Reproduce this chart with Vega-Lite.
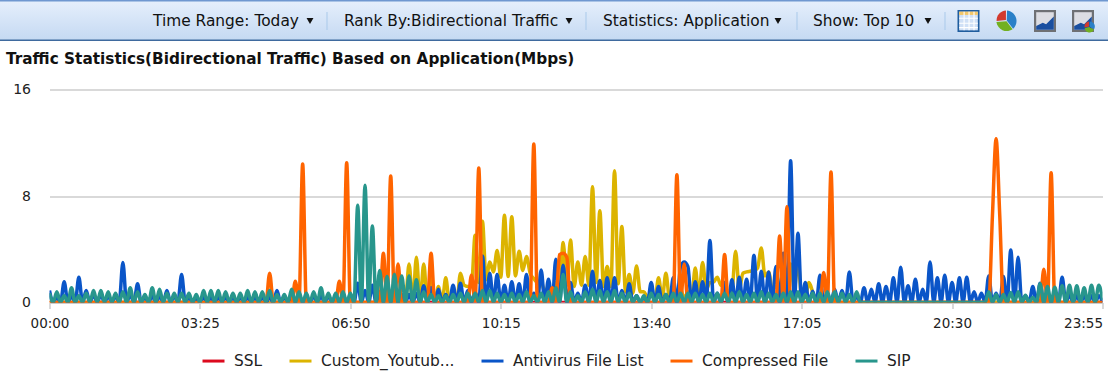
{"$schema":"https://vega.github.io/schema/vega-lite/v6.json","width":1053,"height":213,"autosize":"none","padding":{"left":49.5,"top":89.5,"right":5.5,"bottom":75.5},"background":"white","config":{"view":{"stroke":null}},
"title":{"text":"Traffic Statistics(Bidirectional Traffic) Based on Application(Mbps)","anchor":"start","frame":"group","dx":-43.5,"offset":0,"dy":82,"baseline":"bottom","font":"DejaVu Sans","fontSize":15.3,"fontWeight":"bold","color":"#111111"},
"datasets":{"traffic":[
{"t":"00:00","ssl":0,"yt":0,"av":0.9,"cf":0,"sip":0.7},{"t":"00:05","ssl":0,"yt":0,"av":0,"cf":0,"sip":0},{"t":"00:10","ssl":0,"yt":0,"av":0.4,"cf":0,"sip":0.8},{"t":"00:15","ssl":0,"yt":0,"av":0,"cf":0,"sip":0},{"t":"00:20","ssl":0,"yt":0,"av":1.55,"cf":0,"sip":0.5},{"t":"00:25","ssl":0,"yt":0,"av":0,"cf":0,"sip":0},{"t":"00:30","ssl":0,"yt":0,"av":0.5,"cf":0,"sip":1.1},{"t":"00:35","ssl":0,"yt":0,"av":0,"cf":0,"sip":0},{"t":"00:40","ssl":0,"yt":0,"av":1.9,"cf":0,"sip":0.5},{"t":"00:45","ssl":0,"yt":0,"av":0,"cf":0,"sip":0},{"t":"00:50","ssl":0,"yt":0,"av":0.9,"cf":0,"sip":0.7},{"t":"00:55","ssl":0,"yt":0,"av":0,"cf":0,"sip":0},
{"t":"01:00","ssl":0,"yt":0,"av":0.6,"cf":0,"sip":0.9},{"t":"01:05","ssl":0,"yt":0,"av":0,"cf":0,"sip":0},{"t":"01:10","ssl":0,"yt":0,"av":0.6,"cf":0,"sip":0.9},{"t":"01:15","ssl":0,"yt":0,"av":0,"cf":0,"sip":0},{"t":"01:20","ssl":0,"yt":0,"av":0.5,"cf":0,"sip":0.8},{"t":"01:25","ssl":0,"yt":0,"av":0,"cf":0,"sip":0},{"t":"01:30","ssl":0,"yt":0,"av":0.5,"cf":0,"sip":0.7},{"t":"01:35","ssl":0,"yt":0,"av":0,"cf":0,"sip":0},{"t":"01:40","ssl":0,"yt":0,"av":3,"cf":0,"sip":0.8},{"t":"01:45","ssl":0,"yt":0,"av":0,"cf":0,"sip":0},{"t":"01:50","ssl":0,"yt":0,"av":0.6,"cf":0,"sip":1.1},{"t":"01:55","ssl":0,"yt":0,"av":0,"cf":0,"sip":0},
{"t":"02:00","ssl":0,"yt":0,"av":1.4,"cf":0,"sip":0.8},{"t":"02:05","ssl":0,"yt":0,"av":0,"cf":0,"sip":0},{"t":"02:10","ssl":0,"yt":0,"av":0.4,"cf":0,"sip":0.6},{"t":"02:15","ssl":0,"yt":0,"av":0,"cf":0,"sip":0},{"t":"02:20","ssl":0,"yt":0,"av":0.5,"cf":0,"sip":1.1},{"t":"02:25","ssl":0,"yt":0,"av":0,"cf":0,"sip":0},{"t":"02:30","ssl":0,"yt":0,"av":0.5,"cf":0,"sip":1},{"t":"02:35","ssl":0,"yt":0,"av":0,"cf":0,"sip":0},{"t":"02:40","ssl":0,"yt":0,"av":0.9,"cf":0,"sip":0.7},{"t":"02:45","ssl":0,"yt":0,"av":0,"cf":0,"sip":0},{"t":"02:50","ssl":0,"yt":0,"av":0.5,"cf":0,"sip":0.7},{"t":"02:55","ssl":0,"yt":0,"av":0,"cf":0,"sip":0},
{"t":"03:00","ssl":0,"yt":0,"av":2.1,"cf":0,"sip":0.7},{"t":"03:05","ssl":0,"yt":0,"av":0,"cf":0,"sip":0},{"t":"03:10","ssl":0,"yt":0,"av":0.4,"cf":0,"sip":0.7},{"t":"03:15","ssl":0,"yt":0,"av":0,"cf":0,"sip":0},{"t":"03:20","ssl":0,"yt":0,"av":0.3,"cf":0,"sip":0.6},{"t":"03:25","ssl":0,"yt":0,"av":0,"cf":0,"sip":0},{"t":"03:30","ssl":0,"yt":0,"av":0.4,"cf":0,"sip":0.9},{"t":"03:35","ssl":0,"yt":0,"av":0,"cf":0,"sip":0},{"t":"03:40","ssl":0,"yt":0,"av":0.4,"cf":0,"sip":0.9},{"t":"03:45","ssl":0,"yt":0,"av":0,"cf":0,"sip":0},{"t":"03:50","ssl":0,"yt":0,"av":0.4,"cf":0,"sip":0.9},{"t":"03:55","ssl":0,"yt":0,"av":0,"cf":0,"sip":0},
{"t":"04:00","ssl":0,"yt":0,"av":0.4,"cf":0,"sip":0.8},{"t":"04:05","ssl":0,"yt":0,"av":0,"cf":0,"sip":0},{"t":"04:10","ssl":0,"yt":0,"av":0.4,"cf":0,"sip":0.7},{"t":"04:15","ssl":0,"yt":0,"av":0,"cf":0,"sip":0},{"t":"04:20","ssl":0,"yt":0,"av":0.4,"cf":0,"sip":0.7},{"t":"04:25","ssl":0,"yt":0,"av":0,"cf":0,"sip":0},{"t":"04:30","ssl":0,"yt":0,"av":0.4,"cf":0,"sip":0.9},{"t":"04:35","ssl":0,"yt":0,"av":0,"cf":0,"sip":0},{"t":"04:40","ssl":0,"yt":0,"av":0.4,"cf":0,"sip":0.8},{"t":"04:45","ssl":0,"yt":0,"av":0,"cf":0,"sip":0},{"t":"04:50","ssl":0,"yt":0,"av":0.4,"cf":0,"sip":0.8},{"t":"04:55","ssl":0,"yt":0,"av":0,"cf":0,"sip":0},
{"t":"05:00","ssl":0,"yt":0,"av":0.4,"cf":2.2,"sip":0.9},{"t":"05:05","ssl":0,"yt":0,"av":0,"cf":0,"sip":0},{"t":"05:10","ssl":0,"yt":0,"av":0.9,"cf":0,"sip":0.6},{"t":"05:15","ssl":0,"yt":0,"av":0,"cf":0,"sip":0},{"t":"05:20","ssl":0,"yt":0,"av":0.4,"cf":0,"sip":0.6},{"t":"05:25","ssl":0,"yt":0,"av":0,"cf":0,"sip":0},{"t":"05:30","ssl":0,"yt":0,"av":0.5,"cf":0,"sip":1},{"t":"05:35","ssl":0,"yt":0,"av":0,"cf":1.6,"sip":0},{"t":"05:40","ssl":0,"yt":0,"av":0.5,"cf":0,"sip":0.8},{"t":"05:45","ssl":0,"yt":0,"av":0,"cf":10.4,"sip":0},{"t":"05:50","ssl":0,"yt":0,"av":0.4,"cf":0,"sip":0.7},{"t":"05:55","ssl":0,"yt":0,"av":0,"cf":0,"sip":0},
{"t":"06:00","ssl":0,"yt":0,"av":0.5,"cf":0,"sip":0.8},{"t":"06:05","ssl":0,"yt":0,"av":0,"cf":0,"sip":0},{"t":"06:10","ssl":0,"yt":0,"av":0.5,"cf":0,"sip":1.1},{"t":"06:15","ssl":0,"yt":0,"av":0,"cf":0,"sip":0},{"t":"06:20","ssl":0,"yt":0,"av":0.5,"cf":0,"sip":0.7},{"t":"06:25","ssl":0,"yt":0,"av":0,"cf":0,"sip":0},{"t":"06:30","ssl":0,"yt":0,"av":0.5,"cf":0,"sip":0.7},{"t":"06:35","ssl":0,"yt":0,"av":0,"cf":1.6,"sip":0},{"t":"06:40","ssl":0,"yt":0,"av":0.5,"cf":0,"sip":0.8},{"t":"06:45","ssl":0,"yt":0,"av":0,"cf":10.5,"sip":0},{"t":"06:50","ssl":0,"yt":0,"av":0.4,"cf":0,"sip":0.7},{"t":"06:55","ssl":0,"yt":0,"av":0,"cf":0,"sip":0},
{"t":"07:00","ssl":0,"yt":0,"av":1.45,"cf":0,"sip":7.3},{"t":"07:05","ssl":0,"yt":0,"av":0,"cf":0,"sip":0},{"t":"07:10","ssl":0,"yt":0,"av":0.9,"cf":0,"sip":8.8},{"t":"07:15","ssl":0,"yt":0,"av":0,"cf":0,"sip":0},{"t":"07:20","ssl":0,"yt":0,"av":1.3,"cf":0,"sip":5.75},{"t":"07:25","ssl":0,"yt":0,"av":0,"cf":0,"sip":0},{"t":"07:30","ssl":0,"yt":0,"av":0.8,"cf":0,"sip":2.4},{"t":"07:35","ssl":0,"yt":0,"av":0,"cf":3.7,"sip":0},{"t":"07:40","ssl":0,"yt":0,"av":0.6,"cf":0,"sip":1.95},{"t":"07:45","ssl":0,"yt":0,"av":0,"cf":9.5,"sip":0},{"t":"07:50","ssl":0,"yt":0,"av":0.6,"cf":0,"sip":2.1},{"t":"07:55","ssl":0,"yt":0,"av":0,"cf":2.9,"sip":0},
{"t":"08:00","ssl":0,"yt":0,"av":0.6,"cf":0,"sip":2},{"t":"08:05","ssl":0,"yt":0,"av":0,"cf":0,"sip":0},{"t":"08:10","ssl":0,"yt":2.9,"av":0.6,"cf":0,"sip":2},{"t":"08:15","ssl":0,"yt":0,"av":0,"cf":0,"sip":0},{"t":"08:20","ssl":0,"yt":3.4,"av":0.7,"cf":0,"sip":1.7},{"t":"08:25","ssl":0,"yt":0,"av":0,"cf":0,"sip":0},{"t":"08:30","ssl":0,"yt":2.9,"av":1.25,"cf":0,"sip":0.8},{"t":"08:35","ssl":0,"yt":0,"av":0,"cf":0,"sip":0},{"t":"08:40","ssl":0,"yt":2,"av":1.1,"cf":3.7,"sip":0.6},{"t":"08:45","ssl":0,"yt":0,"av":0,"cf":0,"sip":0},{"t":"08:50","ssl":0,"yt":1.2,"av":1,"cf":0,"sip":0.5},{"t":"08:55","ssl":0,"yt":0,"av":0,"cf":0,"sip":0},
{"t":"09:00","ssl":0,"yt":1.85,"av":0.6,"cf":0,"sip":0.5},{"t":"09:05","ssl":0,"yt":0,"av":0,"cf":0,"sip":0},{"t":"09:10","ssl":0,"yt":1,"av":1.3,"cf":0,"sip":0.6},{"t":"09:15","ssl":0,"yt":0,"av":0,"cf":0,"sip":0},{"t":"09:20","ssl":0,"yt":2.2,"av":1.45,"cf":0,"sip":0.7},{"t":"09:25","ssl":0,"yt":1.3,"av":0,"cf":0,"sip":0},{"t":"09:30","ssl":0,"yt":1.2,"av":0.9,"cf":0,"sip":0.7},{"t":"09:35","ssl":0,"yt":1.2,"av":0,"cf":2.05,"sip":0},{"t":"09:40","ssl":0,"yt":5.05,"av":0.8,"cf":0,"sip":0.7},{"t":"09:45","ssl":0,"yt":1.5,"av":0,"cf":10.1,"sip":0},{"t":"09:50","ssl":0,"yt":6.1,"av":3.5,"cf":0,"sip":0.9},{"t":"09:55","ssl":0,"yt":1.7,"av":0,"cf":0,"sip":0},
{"t":"10:00","ssl":0,"yt":3.05,"av":2.2,"cf":0,"sip":0.9},{"t":"10:05","ssl":0,"yt":2.3,"av":0,"cf":0,"sip":0},{"t":"10:10","ssl":0,"yt":3.9,"av":2.1,"cf":0,"sip":0.7},{"t":"10:15","ssl":0,"yt":1.9,"av":0,"cf":0,"sip":0},{"t":"10:20","ssl":0,"yt":6.55,"av":1.3,"cf":0,"sip":0.6},{"t":"10:25","ssl":0,"yt":1.95,"av":0,"cf":0,"sip":0},{"t":"10:30","ssl":0,"yt":6.45,"av":1.55,"cf":0,"sip":0.7},{"t":"10:35","ssl":0,"yt":2,"av":0,"cf":0,"sip":0},{"t":"10:40","ssl":0,"yt":3.85,"av":1.4,"cf":0,"sip":0.6},{"t":"10:45","ssl":0,"yt":2.4,"av":0,"cf":0,"sip":0},{"t":"10:50","ssl":0,"yt":3.45,"av":2.1,"cf":0,"sip":0.8},{"t":"10:55","ssl":0,"yt":2.2,"av":0,"cf":0,"sip":0},
{"t":"11:00","ssl":0,"yt":1.8,"av":0.7,"cf":11.9,"sip":0.5},{"t":"11:05","ssl":0,"yt":1.5,"av":0,"cf":0,"sip":0},{"t":"11:10","ssl":0,"yt":1.6,"av":2.45,"cf":0,"sip":0.7},{"t":"11:15","ssl":0,"yt":0.8,"av":0,"cf":0,"sip":0},{"t":"11:20","ssl":0,"yt":1.2,"av":1.75,"cf":0,"sip":0.8},{"t":"11:25","ssl":0,"yt":0.8,"av":0,"cf":1.1,"sip":0},{"t":"11:30","ssl":0,"yt":1.5,"av":3.25,"cf":0,"sip":1.1},{"t":"11:35","ssl":0,"yt":1,"av":0,"cf":3.6,"sip":0},{"t":"11:40","ssl":0,"yt":4.5,"av":2.8,"cf":3.7,"sip":2.1},{"t":"11:45","ssl":0,"yt":1.3,"av":0,"cf":3.4,"sip":0},{"t":"11:50","ssl":0,"yt":4.7,"av":1.5,"cf":0,"sip":0.8},{"t":"11:55","ssl":0,"yt":1.2,"av":0,"cf":0,"sip":0},
{"t":"12:00","ssl":0,"yt":3.05,"av":0.7,"cf":0,"sip":0.5},{"t":"12:05","ssl":0,"yt":1.3,"av":0,"cf":0,"sip":0},{"t":"12:10","ssl":0,"yt":3.45,"av":1.3,"cf":0,"sip":0.8},{"t":"12:15","ssl":0,"yt":1.3,"av":0,"cf":0,"sip":0},{"t":"12:20","ssl":0,"yt":8.7,"av":2.35,"cf":0,"sip":1},{"t":"12:25","ssl":0,"yt":1.5,"av":0,"cf":0,"sip":0},{"t":"12:30","ssl":0,"yt":6.9,"av":1.65,"cf":0,"sip":0.9},{"t":"12:35","ssl":0,"yt":1.2,"av":0,"cf":0,"sip":0},{"t":"12:40","ssl":0,"yt":2.7,"av":1.85,"cf":0,"sip":0.8},{"t":"12:45","ssl":0,"yt":1.2,"av":0,"cf":0,"sip":0},{"t":"12:50","ssl":0,"yt":9.9,"av":1.85,"cf":0,"sip":0.9},{"t":"12:55","ssl":0,"yt":1.4,"av":0,"cf":0,"sip":0},
{"t":"13:00","ssl":0,"yt":5.7,"av":0.9,"cf":0,"sip":0.7},{"t":"13:05","ssl":0,"yt":0.8,"av":0,"cf":0,"sip":0},{"t":"13:10","ssl":0,"yt":2.1,"av":1.4,"cf":0,"sip":0.7},{"t":"13:15","ssl":0,"yt":0.7,"av":0,"cf":0,"sip":0},{"t":"13:20","ssl":0,"yt":2.75,"av":0.5,"cf":0,"sip":0.5},{"t":"13:25","ssl":0,"yt":0.8,"av":0,"cf":0,"sip":0},{"t":"13:30","ssl":0,"yt":0.8,"av":0.4,"cf":0,"sip":0.5},{"t":"13:35","ssl":0,"yt":0.4,"av":0,"cf":0,"sip":0},{"t":"13:40","ssl":0,"yt":0.7,"av":1.5,"cf":0,"sip":0.7},{"t":"13:45","ssl":0,"yt":0.2,"av":0,"cf":0,"sip":0},{"t":"13:50","ssl":0,"yt":1.85,"av":1.2,"cf":0,"sip":0.6},{"t":"13:55","ssl":0,"yt":0.3,"av":0,"cf":0,"sip":0},
{"t":"14:00","ssl":0,"yt":2.2,"av":0.6,"cf":0,"sip":0.6},{"t":"14:05","ssl":0,"yt":0.3,"av":0,"cf":0,"sip":0},{"t":"14:10","ssl":0,"yt":0.8,"av":1.85,"cf":0,"sip":0.7},{"t":"14:15","ssl":0,"yt":0.3,"av":0,"cf":9.6,"sip":0},{"t":"14:20","ssl":0,"yt":1,"av":2.7,"cf":0,"sip":0.7},{"t":"14:25","ssl":0,"yt":0.3,"av":3.05,"cf":2.9,"sip":0},{"t":"14:30","ssl":0,"yt":0.8,"av":2.7,"cf":0,"sip":0.7},{"t":"14:35","ssl":0,"yt":0.3,"av":0,"cf":0,"sip":0},{"t":"14:40","ssl":0,"yt":2.6,"av":1.55,"cf":0,"sip":0.7},{"t":"14:45","ssl":0,"yt":0.5,"av":0,"cf":0,"sip":0},{"t":"14:50","ssl":0,"yt":3,"av":1.55,"cf":0,"sip":0.6},{"t":"14:55","ssl":0,"yt":1,"av":0,"cf":0,"sip":0},
{"t":"15:00","ssl":0,"yt":1.5,"av":4.65,"cf":0,"sip":0.7},{"t":"15:05","ssl":0,"yt":1.55,"av":0,"cf":0,"sip":0},{"t":"15:10","ssl":0,"yt":1.9,"av":0.7,"cf":0,"sip":0.7},{"t":"15:15","ssl":0,"yt":1.3,"av":0,"cf":0,"sip":0},{"t":"15:20","ssl":0,"yt":1.5,"av":1.5,"cf":3.6,"sip":0.7},{"t":"15:25","ssl":0,"yt":0.4,"av":0,"cf":0,"sip":0},{"t":"15:30","ssl":0,"yt":0.8,"av":1.7,"cf":0,"sip":0.7},{"t":"15:35","ssl":0,"yt":3.85,"av":0,"cf":0,"sip":0},{"t":"15:40","ssl":0,"yt":1,"av":1.9,"cf":0,"sip":0.8},{"t":"15:45","ssl":0,"yt":2.2,"av":0,"cf":0,"sip":0},{"t":"15:50","ssl":0,"yt":2.3,"av":1.75,"cf":0,"sip":0.6},{"t":"15:55","ssl":0,"yt":2.35,"av":0,"cf":0,"sip":0},
{"t":"16:00","ssl":0,"yt":2.4,"av":3.55,"cf":0,"sip":0.7},{"t":"16:05","ssl":0,"yt":2.6,"av":0,"cf":0,"sip":0},{"t":"16:10","ssl":0,"yt":4.1,"av":2.35,"cf":0,"sip":0.8},{"t":"16:15","ssl":0,"yt":2,"av":0,"cf":0,"sip":0},{"t":"16:20","ssl":0,"yt":2.3,"av":2.3,"cf":0,"sip":0.7},{"t":"16:25","ssl":0,"yt":1,"av":0,"cf":0,"sip":0},{"t":"16:30","ssl":0,"yt":1.2,"av":2.7,"cf":0,"sip":0.6},{"t":"16:35","ssl":0,"yt":0.8,"av":0,"cf":5,"sip":0},{"t":"16:40","ssl":0,"yt":3,"av":3.7,"cf":0,"sip":0.7},{"t":"16:45","ssl":0,"yt":1,"av":0,"cf":7.2,"sip":0},{"t":"16:50","ssl":0,"yt":2.9,"av":10.65,"cf":0,"sip":0.8},{"t":"16:55","ssl":0,"yt":1,"av":0,"cf":0,"sip":0},
{"t":"17:00","ssl":0,"yt":3.2,"av":5.2,"cf":0,"sip":0.8},{"t":"17:05","ssl":0,"yt":0.4,"av":0,"cf":0,"sip":0},{"t":"17:10","ssl":0,"yt":0.4,"av":1.5,"cf":0,"sip":0.6},{"t":"17:15","ssl":0,"yt":1.5,"av":0,"cf":0,"sip":0},{"t":"17:20","ssl":0,"yt":0.8,"av":0.85,"cf":0,"sip":0.7},{"t":"17:25","ssl":0,"yt":0.1,"av":0,"cf":0,"sip":0},{"t":"17:30","ssl":0,"yt":0,"av":2.05,"cf":0,"sip":0.7},{"t":"17:35","ssl":0,"yt":0,"av":0,"cf":2.25,"sip":0},{"t":"17:40","ssl":0,"yt":0,"av":0.7,"cf":0,"sip":0.8},{"t":"17:45","ssl":0,"yt":0,"av":0,"cf":9.8,"sip":0},{"t":"17:50","ssl":0,"yt":0,"av":1,"cf":0,"sip":0.8},{"t":"17:55","ssl":0,"yt":0,"av":0,"cf":0,"sip":0},
{"t":"18:00","ssl":0,"yt":0,"av":0.9,"cf":0,"sip":0.7},{"t":"18:05","ssl":0,"yt":0,"av":0,"cf":0,"sip":0},{"t":"18:10","ssl":0,"yt":0,"av":2.3,"cf":0,"sip":0.6},{"t":"18:15","ssl":0,"yt":0,"av":0,"cf":0,"sip":0},{"t":"18:20","ssl":0,"yt":0,"av":0.5,"cf":0,"sip":0.8},{"t":"18:25","ssl":0,"yt":0,"av":0,"cf":0,"sip":0},{"t":"18:30","ssl":0,"yt":0,"av":1.1,"cf":0,"sip":0},{"t":"18:35","ssl":0,"yt":0,"av":0,"cf":0,"sip":0},{"t":"18:40","ssl":0,"yt":0,"av":1,"cf":0,"sip":0},{"t":"18:45","ssl":0,"yt":0,"av":0,"cf":0,"sip":0},{"t":"18:50","ssl":0,"yt":0,"av":1.4,"cf":0,"sip":0},{"t":"18:55","ssl":0,"yt":0,"av":0,"cf":0,"sip":0},
{"t":"19:00","ssl":0,"yt":0,"av":1.2,"cf":0,"sip":0},{"t":"19:05","ssl":0,"yt":0,"av":0,"cf":0,"sip":0},{"t":"19:10","ssl":0,"yt":0,"av":1.85,"cf":0,"sip":0},{"t":"19:15","ssl":0,"yt":0,"av":0,"cf":0,"sip":0},{"t":"19:20","ssl":0,"yt":0,"av":2.65,"cf":0,"sip":0},{"t":"19:25","ssl":0,"yt":0,"av":0,"cf":0,"sip":0},{"t":"19:30","ssl":0,"yt":0,"av":1.25,"cf":0,"sip":0},{"t":"19:35","ssl":0,"yt":0,"av":0,"cf":0,"sip":0},{"t":"19:40","ssl":0,"yt":0,"av":1.75,"cf":0,"sip":0},{"t":"19:45","ssl":0,"yt":0,"av":0,"cf":0,"sip":0},{"t":"19:50","ssl":0,"yt":0,"av":1,"cf":0,"sip":0},{"t":"19:55","ssl":0,"yt":0,"av":0,"cf":0,"sip":0},
{"t":"20:00","ssl":0,"yt":0,"av":3.05,"cf":0,"sip":0},{"t":"20:05","ssl":0,"yt":0,"av":0,"cf":0,"sip":0},{"t":"20:10","ssl":0,"yt":0,"av":1.85,"cf":0,"sip":0},{"t":"20:15","ssl":0,"yt":0,"av":0,"cf":0,"sip":0},{"t":"20:20","ssl":0,"yt":0,"av":2.05,"cf":0,"sip":0},{"t":"20:25","ssl":0,"yt":0,"av":0,"cf":0,"sip":0},{"t":"20:30","ssl":0,"yt":0,"av":1.5,"cf":0,"sip":0},{"t":"20:35","ssl":0,"yt":0,"av":0,"cf":0,"sip":0},{"t":"20:40","ssl":0,"yt":0,"av":1.85,"cf":0,"sip":0},{"t":"20:45","ssl":0,"yt":0,"av":0,"cf":0,"sip":0},{"t":"20:50","ssl":0,"yt":0,"av":1.9,"cf":0,"sip":0},{"t":"20:55","ssl":0,"yt":0,"av":0,"cf":0,"sip":0},
{"t":"21:00","ssl":0,"yt":0,"av":0.8,"cf":0,"sip":0},{"t":"21:05","ssl":0,"yt":0,"av":0,"cf":0,"sip":0},{"t":"21:10","ssl":0,"yt":0,"av":0.7,"cf":0,"sip":0},{"t":"21:15","ssl":0,"yt":0,"av":0,"cf":0,"sip":0},{"t":"21:20","ssl":0,"yt":0,"av":2,"cf":0,"sip":0.8},{"t":"21:25","ssl":0,"yt":0,"av":0,"cf":6.5,"sip":0},{"t":"21:30","ssl":0,"yt":0,"av":0.7,"cf":12.3,"sip":0.6},{"t":"21:35","ssl":0,"yt":0,"av":0,"cf":6.5,"sip":0},{"t":"21:40","ssl":0,"yt":0,"av":1.95,"cf":0,"sip":0.6},{"t":"21:45","ssl":0,"yt":0,"av":0,"cf":0,"sip":0},{"t":"21:50","ssl":0,"yt":0,"av":3.95,"cf":0,"sip":0.75},{"t":"21:55","ssl":0,"yt":0,"av":0,"cf":0,"sip":0},
{"t":"22:00","ssl":0,"yt":0,"av":3.4,"cf":0,"sip":0.8},{"t":"22:05","ssl":0,"yt":0,"av":0,"cf":0,"sip":0},{"t":"22:10","ssl":0,"yt":0,"av":0.5,"cf":0,"sip":0.55},{"t":"22:15","ssl":0,"yt":0,"av":0,"cf":0,"sip":0},{"t":"22:20","ssl":0,"yt":0,"av":1.2,"cf":0,"sip":0.4},{"t":"22:25","ssl":0,"yt":0,"av":0,"cf":0,"sip":0},{"t":"22:30","ssl":0,"yt":0,"av":1.45,"cf":0,"sip":1.4},{"t":"22:35","ssl":0,"yt":0,"av":0,"cf":2.5,"sip":0},{"t":"22:40","ssl":0,"yt":0,"av":0.6,"cf":0,"sip":1.2},{"t":"22:45","ssl":0,"yt":0,"av":0,"cf":9.75,"sip":0},{"t":"22:50","ssl":0,"yt":0,"av":0.5,"cf":0,"sip":1.15},{"t":"22:55","ssl":0,"yt":0,"av":0,"cf":0,"sip":0},
{"t":"23:00","ssl":0,"yt":0,"av":1.9,"cf":0,"sip":1.25},{"t":"23:05","ssl":0,"yt":0,"av":0,"cf":0,"sip":0},{"t":"23:10","ssl":0,"yt":0,"av":0.6,"cf":0,"sip":1.3},{"t":"23:15","ssl":0,"yt":0,"av":0,"cf":0,"sip":0},{"t":"23:20","ssl":0,"yt":0,"av":0.5,"cf":0,"sip":1.25},{"t":"23:25","ssl":0,"yt":0,"av":0,"cf":0,"sip":0},{"t":"23:30","ssl":0,"yt":0,"av":0.5,"cf":0,"sip":1.1},{"t":"23:35","ssl":0,"yt":0,"av":0,"cf":0,"sip":0},{"t":"23:40","ssl":0,"yt":0,"av":0.5,"cf":0,"sip":1.3},{"t":"23:45","ssl":0,"yt":0,"av":0,"cf":0,"sip":0},{"t":"23:50","ssl":0,"yt":0,"av":0.5,"cf":0,"sip":1.3},{"t":"23:55","ssl":0,"yt":0,"av":0,"cf":0,"sip":0.2}
]},
"data":{"name":"traffic"},
"resolve":{"scale":{"x":"independent","y":"independent"},"axis":{"x":"independent","y":"independent"}},
"layer":[
{"layer":[
{"data":{"values":[{"slot":0,"slot2":20,"level":0,"level2":6}]},"mark":{"type":"rect","color":{"gradient":"linear","x1":0,"y1":0,"x2":0,"y2":1,"stops":[{"offset":0,"color":"#e6effc"},{"offset":1,"color":"#c4d9f2"}]}},"encoding":{"x":{"field":"slot","type":"quantitative","axis":null,"scale":{"zero":false,"nice":false,"domain":[0,1,2,3,4,5,6,7,8,9,10,11,12,13,14,15,16,17,18,19,20],"range":[-49.5,103.5,260.5,277.5,294.5,519.5,536.5,553.5,728.5,747.5,763.5,878.5,895.5,919,957,995.5,1033.5,1058.5,1058.5,1058.5,1058.5]}},"x2":{"field":"slot2"},"y":{"field":"level","type":"quantitative","axis":null,"scale":{"zero":false,"nice":false,"domain":[0,1,2,3,4,5,6],"range":[-89.5,-88,-77.5,-68.5,-59.5,-50,-48.5]}},"y2":{"field":"level2"}}},
{"data":{"values":[{"slot":0,"slot2":20,"level":0,"level2":1}]},"mark":{"type":"rect","color":"#6f97d0"},"encoding":{"x":{"field":"slot","type":"quantitative"},"x2":{"field":"slot2"},"y":{"field":"level","type":"quantitative"},"y2":{"field":"level2"}}},
{"data":{"values":[{"slot":0,"slot2":20,"level":5,"level2":6}]},"mark":{"type":"rect","color":"#3f6a9e"},"encoding":{"x":{"field":"slot","type":"quantitative"},"x2":{"field":"slot2"},"y":{"field":"level","type":"quantitative"},"y2":{"field":"level2"}}},
{"data":{"values":[{"slot":3,"level":2,"level2":4},{"slot":6,"level":2,"level2":4},{"slot":9,"level":2,"level2":4},{"slot":12,"level":2,"level2":4}]},"mark":{"type":"rule","color":"#a9c9ea","strokeWidth":1},"encoding":{"x":{"field":"slot","type":"quantitative"},"y":{"field":"level","type":"quantitative"},"y2":{"field":"level2"}}},
{"data":{"values":[{"slot":1,"item":"Time Range: Today","level":3},{"slot":4,"item":"Rank By:Bidirectional Traffic","level":3},{"slot":7,"item":"Statistics: Application","level":3},{"slot":10,"item":"Show: Top 10","level":3}]},"mark":{"type":"text","align":"left","baseline":"middle","font":"DejaVu Sans","fontSize":15.4,"color":"#111111"},"encoding":{"x":{"field":"slot","type":"quantitative"},"y":{"field":"level","type":"quantitative"},"text":{"field":"item"}}},
{"data":{"values":[{"slot":2,"level":3},{"slot":5,"level":3},{"slot":8,"level":3},{"slot":11,"level":3}]},"mark":{"type":"point","shape":"triangle-down","filled":true,"size":48,"color":"#111111","opacity":1},"encoding":{"x":{"field":"slot","type":"quantitative"},"y":{"field":"level","type":"quantitative"}}},
{"data":{"values":[
{"slot":13,"level":3,"part":"tableFrame"},{"slot":13,"level":3,"part":"tableFill"},{"slot":13,"level":3,"part":"tableHead"},{"slot":13,"level":3,"part":"tableGrid"},
{"slot":14,"level":3,"part":"pieBlue"},{"slot":14,"level":3,"part":"pieRed"},{"slot":14,"level":3,"part":"pieGreen"},
{"slot":15,"level":3,"part":"frame"},{"slot":15,"level":3,"part":"inner"},{"slot":15,"level":3,"part":"area"},
{"slot":16,"level":3,"part":"frame"},{"slot":16,"level":3,"part":"inner"},{"slot":16,"level":3,"part":"area"},{"slot":16,"level":3,"part":"miniBlue"},{"slot":16,"level":3,"part":"miniRed"},{"slot":16,"level":3,"part":"miniGreen"}
]},"mark":{"type":"point","filled":true,"size":484,"opacity":1,"strokeWidth":0},"encoding":{"x":{"field":"slot","type":"quantitative"},"y":{"field":"level","type":"quantitative"},
"shape":{"field":"part","type":"nominal","sort":null,"legend":null,"scale":{"domain":["tableFrame","tableFill","tableHead","tableGrid","pieBlue","pieRed","pieGreen","frame","inner","area","miniBlue","miniRed","miniGreen"],"range":["M-1,-1H1V1H-1Z","M-.85,-.85H.85V.85H-.85Z","M-.85,-.85H.85V-.55H-.85Z","M-.45,-.85h.1v1.7h-.1z M0,-.85h.1v1.7h-.1z M.45,-.85h.1v1.7h-.1z M-.85,-.3h1.7v.1h-1.7z M-.85,.15h1.7v.1h-1.7z M-.85,.55h1.7v.1h-1.7z","M.02,-.05L.05,-.95A.95,.95,0,0,1,.6,.7Z","M-.05,-.1L-.9,0A.9,.9,0,0,1,-.05,-.95Z","M0,.02L.55,.75A.95,.95,0,0,1,-.92,.1Z","M-1,-1H1V1H-1Z","M-.8,-.8H.8V.8H-.8Z","M-.8,.8V.45L-.2,.15L.1,.3L.8,-.4V.8Z","M.6,.5L.6,.05A.45,.45,0,0,1,1,.75Z","M.55,.5L.15,.6A.45,.45,0,0,1,.55,.05Z","M.55,.55L1,.8A.45,.45,0,0,1,.15,.65Z"]}},
"fill":{"field":"part","type":"nominal","sort":null,"legend":null,"scale":{"domain":["tableFrame","tableFill","tableHead","tableGrid","pieBlue","pieRed","pieGreen","frame","inner","area","miniBlue","miniRed","miniGreen"],"range":["#1f5d9e","#cfe0f6","#f2c76a","#ffffff","#2a80c8","#d23a2e","#72b021","#6e7074","#dcdde3","#1a4fa0","#2a80c8","#d23a2e","#72b021"]}},
"order":{"field":"slot"}}}
]},
{"encoding":{"x":{"field":"t","type":"nominal","title":null,"scale":{"type":"point","padding":0},"axis":{"orient":"bottom","values":["00:00","03:25","06:50","10:15","13:40","17:05","20:30","23:55"],"labelAngle":0,"labelFont":"DejaVu Sans","labelFontSize":13.5,"labelColor":"#222222","labelPadding":8,"labelOverlap":false,"labelAlign":{"condition":{"test":"datum.label==='23:55'","value":"right"},"value":"center"},"tickColor":"#cccccc","tickSize":6,"tickWidth":1.5,"domainColor":"#cccccc","domainWidth":2,"grid":false}}},
"layer":[
{"mark":{"type":"line","interpolate":"monotone","strokeWidth":3.5,"clip":true},"encoding":{"y":{"field":"ssl","type":"quantitative","title":null,"scale":{"domain":[0,16],"nice":false},"axis":{"orient":"left","grid":true,"values":[0,8,16],"labelFont":"DejaVu Sans","labelFontSize":14,"labelColor":"#222222","labelPadding":19,"ticks":false,"domain":false,"gridColor":"#cccccc","gridWidth":1.5}},"color":{"datum":"SSL","title":null,"scale":{"domain":["SSL","Custom_Youtub...","Antivirus File List","Compressed File","SIP"],"range":["#dc0a1e","#dcb400","#0a55c8","#ff6400","#28968c"]},"legend":{"orient":"none","legendX":151.5,"legendY":259,"direction":"horizontal","columns":5,"symbolType":"stroke","symbolSize":484,"symbolStrokeWidth":3,"labelFont":"DejaVu Sans","labelFontSize":15.4,"labelColor":"#222222","labelOffset":8,"columnPadding":20,"padding":0,"title":null}}}},
{"mark":{"type":"line","interpolate":"monotone","strokeWidth":3.5,"clip":true},"encoding":{"y":{"field":"yt","type":"quantitative"},"color":{"datum":"Custom_Youtub..."}}},
{"mark":{"type":"line","interpolate":"monotone","strokeWidth":3.5,"clip":true},"encoding":{"y":{"field":"av","type":"quantitative"},"color":{"datum":"Antivirus File List"}}},
{"mark":{"type":"line","interpolate":"monotone","strokeWidth":3.5,"clip":true},"encoding":{"y":{"field":"cf","type":"quantitative"},"color":{"datum":"Compressed File"}}},
{"mark":{"type":"line","interpolate":"monotone","strokeWidth":3.5,"clip":true},"encoding":{"y":{"field":"sip","type":"quantitative"},"color":{"datum":"SIP"}}}
]}
]}
